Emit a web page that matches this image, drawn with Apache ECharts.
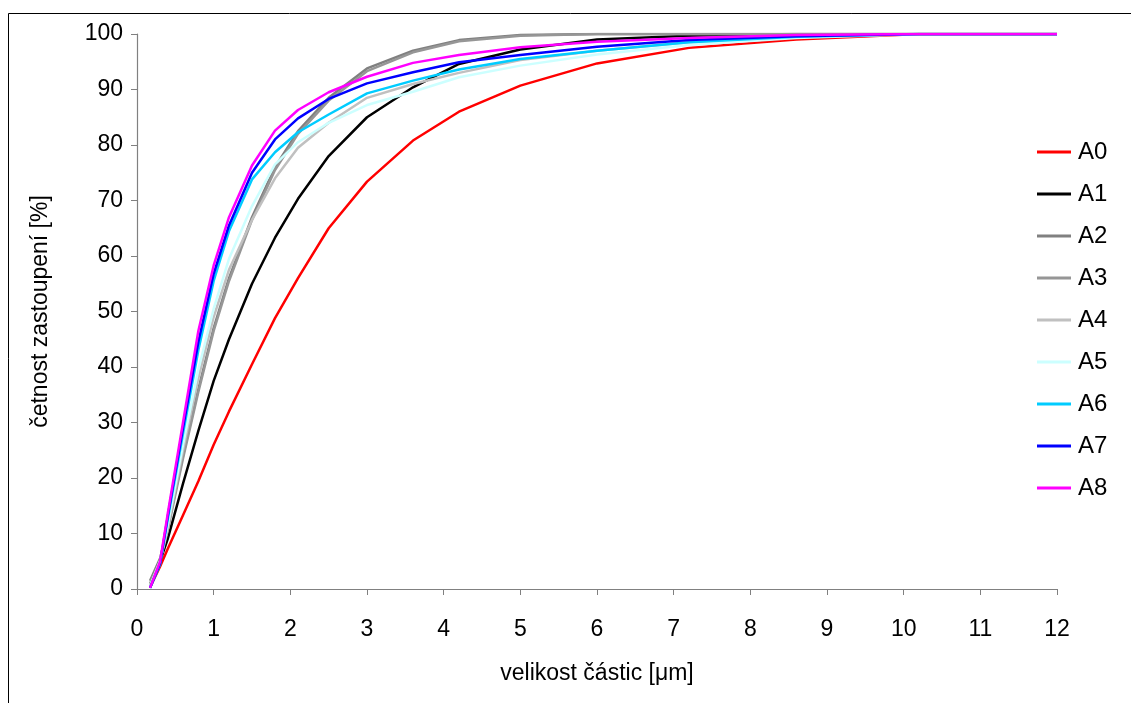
<!DOCTYPE html>
<html>
<head>
<meta charset="utf-8">
<script src="https://cdn.jsdelivr.net/npm/echarts@6/dist/echarts.min.js"></script>
<style>
html,body{margin:0;padding:0;background:#fff;}
#chart{width:1131px;height:703px;}
</style>
</head>
<body>
<div id="chart"></div>
<script>
// particle size [µm]
const sizes = [0.17, 0.3, 0.4, 0.6, 0.8, 1.0, 1.2, 1.5, 1.8, 2.1, 2.5, 3.0, 3.6, 4.2, 5.0, 6.0, 7.2, 8.6, 10.2, 12.0];
const seriesNames = ['A0', 'A1', 'A2', 'A3', 'A4', 'A5', 'A6', 'A7', 'A8'];
const A0 = [0.3, 4, 7.2, 13.3, 19.4, 26, 32, 40.5, 48.8, 56, 65, 73.4, 80.8, 86, 90.7, 94.7, 97.5, 99, 100, 100];
const A1 = [0.5, 5, 9, 19, 28.5, 37.5, 45, 55, 63.3, 70.3, 78, 85, 90.4, 94.6, 97.2, 99, 99.7, 100, 100, 100];
const A2 = [1.5, 5.5, 11, 24, 36, 47, 56, 67, 76, 82.5, 88.5, 93.8, 97, 98.9, 99.8, 100, 100, 100, 100, 100];
const A3 = [1, 5, 10.5, 23.5, 35.5, 46.5, 55.5, 66.5, 75.5, 82, 88, 93.3, 96.7, 98.7, 99.7, 100, 100, 100, 100, 100];
const A4 = [0.5, 5, 11, 25, 38, 49, 57.5, 66.5, 74, 79.5, 84, 88.5, 91, 93, 95.3, 97, 98.5, 99.5, 100, 100];
const A5 = [0.5, 5, 11.5, 26, 39.5, 50.5, 59.5, 69, 76.5, 80.5, 84, 87.2, 89.6, 92.2, 94.3, 96.3, 98, 99.3, 100, 100];
const A6 = [0.2, 4.4, 12.5, 28, 43, 55.5, 64.5, 73.8, 78.7, 82.3, 85.5, 89.3, 91.6, 93.6, 95.5, 97, 98.5, 99.5, 100, 100];
const A7 = [0.2, 4.6, 13, 29, 44.5, 56.8, 65.5, 75, 81, 84.8, 88.3, 91.1, 93.1, 94.9, 96.2, 97.7, 98.9, 99.6, 100, 100];
const A8 = [0.2, 4.9, 13.5, 30, 46.5, 58.3, 67, 76.3, 82.6, 86.3, 89.5, 92.3, 94.8, 96.2, 97.6, 98.6, 99.3, 99.8, 100, 100];
const xTicks = [0,1,2,3,4,5,6,7,8,9,10,11,12];
const yTicks = [0,10,20,30,40,50,60,70,80,90,100];

const allValues = [A0, A1, A2, A3, A4, A5, A6, A7, A8];
const colors = ['#FF0000', '#000000', '#808080', '#969696', '#C0C0C0', '#CCFFFF', '#00CCFF', '#0000FF', '#FF00FF'];
const font = 'Arial, "Liberation Sans", sans-serif';

const chart = echarts.init(document.getElementById('chart'), null, {renderer: 'canvas'});
chart.setOption({
  animation: false,
  backgroundColor: '#fff',
  graphic: [{
    type: 'rect', left: 6, top: 11, silent: true,
    shape: {width: 1200, height: 800},
    style: {fill: 'none', stroke: '#000', lineWidth: 1}
  }],
  grid: {left: 137, right: 74, top: 34, bottom: 114, containLabel: false},
  legend: {
    orient: 'vertical', left: 1037, top: 140, padding: 0,
    itemWidth: 34, itemHeight: 3, itemGap: 18,
    icon: 'rect',
    textStyle: {fontFamily: font, fontSize: 24, color: '#000', padding: [0,0,0,2]},
    data: seriesNames
  },
  xAxis: {
    type: 'value', min: xTicks[0], max: xTicks[xTicks.length-1], interval: 1,
    name: 'velikost částic [μm]', nameLocation: 'middle', nameGap: 73,
    nameTextStyle: {fontFamily: font, fontSize: 23, color: '#000'},
    axisLine: {show: true, lineStyle: {color: '#808080', width: 1.2}},
    axisTick: {show: true, length: 6, inside: false, lineStyle: {color: '#808080'}},
    axisLabel: {margin: 29, fontFamily: font, fontSize: 23, color: '#000'},
    splitLine: {show: false}
  },
  yAxis: {
    type: 'value', min: yTicks[0], max: yTicks[yTicks.length-1], interval: 10,
    name: 'četnost zastoupení [%]', nameLocation: 'middle', nameGap: 85,
    nameTextStyle: {fontFamily: font, fontSize: 23, color: '#000'},
    axisLine: {show: true, lineStyle: {color: '#808080', width: 1.2}},
    axisTick: {show: true, length: 6, inside: false, lineStyle: {color: '#808080'}},
    axisLabel: {margin: 14, fontFamily: font, fontSize: 23, color: '#000'},
    splitLine: {show: false}
  },
  series: seriesNames.map((n, i) => ({
    name: n, type: 'line', symbol: 'none', smooth: false,
    data: sizes.map((x, j) => [x, allValues[i][j]]),
    lineStyle: {color: colors[i], width: 2.5},
    itemStyle: {color: colors[i]}
  }))
});
</script>
</body>
</html>
